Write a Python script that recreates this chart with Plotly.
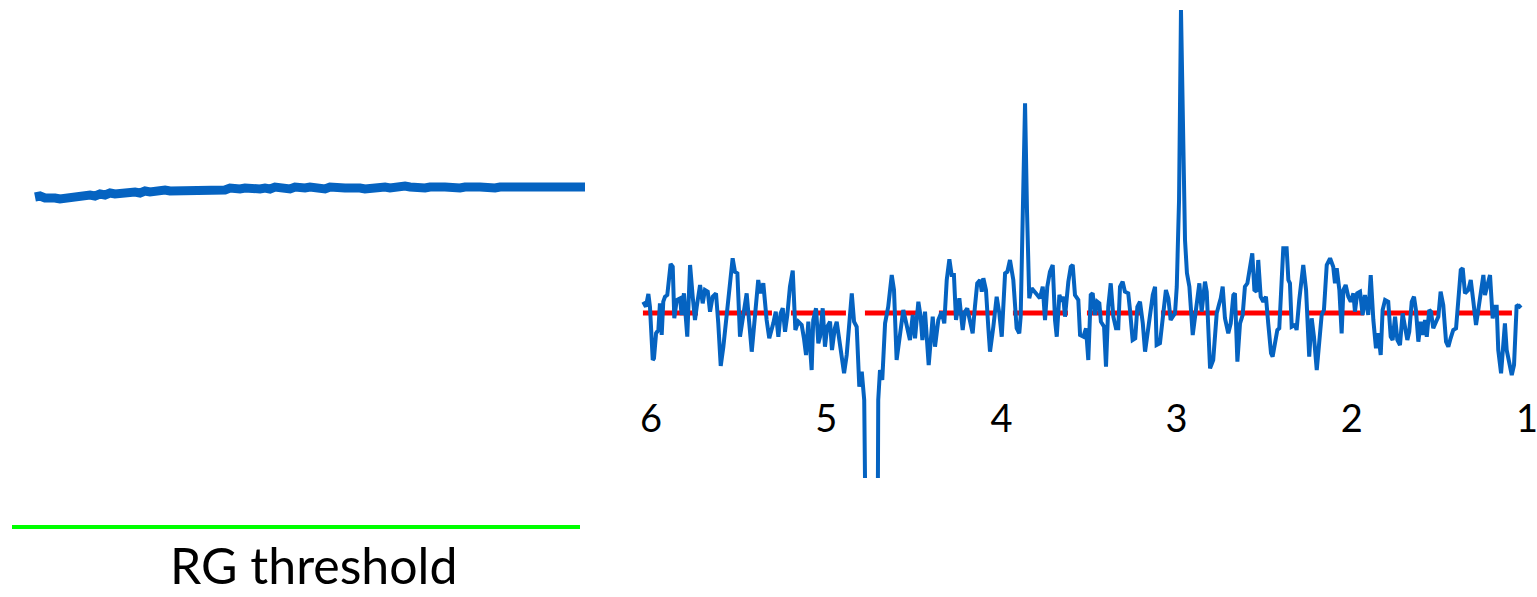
import plotly.graph_objects as go

# ---- left panel: quality trace over time with RG threshold ----
quality_t = list(range(111))
quality_val = [
    4.00, 4.01, 3.99, 4.00, 3.99, 3.98, 3.99, 3.98, 4.00, 4.01,
    4.01, 4.02, 4.01, 4.03, 4.02, 4.04, 4.03, 4.04, 4.05, 4.04,
    4.05, 4.04, 4.06, 4.05, 4.06, 4.05, 4.07, 4.06, 4.06, 4.07,
    4.06, 4.07, 4.08, 4.07, 4.07, 4.08, 4.07, 4.08, 4.07, 4.09,
    4.08, 4.08, 4.09, 4.08, 4.09, 4.08, 4.09, 4.08, 4.10, 4.09,
    4.09, 4.08, 4.10, 4.09, 4.09, 4.10, 4.09, 4.09, 4.08, 4.10,
    4.09, 4.10, 4.09, 4.09, 4.10, 4.09, 4.08, 4.09, 4.10, 4.09,
    4.10, 4.09, 4.10, 4.09, 4.11, 4.10, 4.09, 4.10, 4.09, 4.10,
    4.09, 4.10, 4.10, 4.09, 4.10, 4.09, 4.10, 4.09, 4.10, 4.10,
    4.09, 4.10, 4.09, 4.10, 4.10, 4.09, 4.10, 4.09, 4.10, 4.10,
    4.09, 4.10, 4.10, 4.09, 4.10, 4.10, 4.09, 4.10, 4.10, 4.09,
    4.10,
]
rg_threshold = 0.70
threshold_t = [-4.6, 109.0]
threshold_label = "RG threshold"

# ---- right panel: spectrum (chemical shift in ppm) ----
ppm = [
    6.044, 6.029, 6.015, 6.006, 5.990, 5.983, 5.971, 5.958, 5.949, 5.939,
    5.930, 5.920, 5.907, 5.888, 5.876, 5.867, 5.853, 5.834, 5.825, 5.812,
    5.793, 5.777, 5.762, 5.749, 5.739, 5.720, 5.705, 5.692, 5.676, 5.663,
    5.648, 5.629, 5.616, 5.602, 5.587, 5.568, 5.549, 5.534, 5.521, 5.507,
    5.492, 5.473, 5.454, 5.425, 5.406, 5.388, 5.374, 5.359, 5.340, 5.325,
    5.302, 5.288, 5.273, 5.260, 5.248, 5.235, 5.222, 5.207, 5.191, 5.176,
    5.159, 5.140, 5.127, 5.115, 5.102, 5.092, 5.083, 5.074, 5.058, 5.045,
    5.035, 5.020, 5.007, 4.994, 4.978, 4.967, 4.951, 4.940, 4.925, 4.912,
    4.898, 4.883, 4.868, 4.854, 4.841, 4.826, 4.811, 4.797, 4.783, 4.773,
    4.707, 4.703, 4.693, 4.680, 4.664, 4.646, 4.626, 4.613, 4.598, 4.583,
    4.560, 4.541, 4.522, 4.506, 4.493, 4.474, 4.461, 4.451, 4.436, 4.415,
    4.392, 4.379, 4.360, 4.341, 4.326, 4.312, 4.297, 4.284, 4.271, 4.259,
    4.240, 4.221, 4.208, 4.195, 4.179, 4.164, 4.151, 4.138, 4.122, 4.112,
    4.103, 4.088, 4.075, 4.065, 4.046, 4.027, 4.012, 3.998, 3.979, 3.966,
    3.951, 3.932, 3.913, 3.898, 3.890, 3.877, 3.865, 3.854, 3.841, 3.827,
    3.808, 3.795, 3.780, 3.764, 3.751, 3.738, 3.723, 3.707, 3.694, 3.684,
    3.669, 3.656, 3.647, 3.637, 3.618, 3.604, 3.593, 3.580, 3.561, 3.551,
    3.532, 3.517, 3.504, 3.490, 3.479, 3.466, 3.453, 3.441, 3.432, 3.414,
    3.403, 3.390, 3.376, 3.361, 3.346, 3.333, 3.323, 3.308, 3.295, 3.276,
    3.266, 3.251, 3.236, 3.224, 3.209, 3.193, 3.180, 3.167, 3.152, 3.136,
    3.123, 3.114, 3.095, 3.076, 3.061, 3.047, 3.034, 3.022, 3.009, 2.999,
    2.986, 2.975, 2.962, 2.952, 2.941, 2.927, 2.908, 2.885, 2.870, 2.857,
    2.838, 2.828, 2.809, 2.791, 2.771, 2.756, 2.748, 2.737, 2.724, 2.705,
    2.691, 2.676, 2.667, 2.653, 2.638, 2.623, 2.610, 2.596, 2.581, 2.568,
    2.556, 2.543, 2.534, 2.520, 2.505, 2.490, 2.477, 2.461, 2.452, 2.438,
    2.425, 2.414, 2.400, 2.391, 2.372, 2.362, 2.353, 2.343, 2.324, 2.315,
    2.300, 2.286, 2.277, 2.261, 2.243, 2.229, 2.216, 2.200, 2.185, 2.172,
    2.159, 2.143, 2.124, 2.106, 2.096, 2.086, 2.071, 2.058, 2.048, 2.035,
    2.020, 2.006, 1.991, 1.982, 1.969, 1.953, 1.938, 1.925, 1.906, 1.892,
    1.877, 1.862, 1.849, 1.835, 1.824, 1.810, 1.792, 1.778, 1.767, 1.753,
    1.740, 1.725, 1.710, 1.696, 1.683, 1.672, 1.658, 1.645, 1.634, 1.620,
    1.607, 1.595, 1.582, 1.572, 1.558, 1.548, 1.535, 1.519, 1.506, 1.493,
    1.478, 1.462, 1.449, 1.436, 1.421, 1.405, 1.392, 1.378, 1.367, 1.354,
    1.335, 1.321, 1.306, 1.291, 1.278, 1.264, 1.249, 1.240, 1.227, 1.211,
    1.196, 1.183, 1.173, 1.164, 1.148, 1.135, 1.126, 1.116, 1.101, 1.087,
    1.074, 1.059, 1.044, 1.034,
]
amplitude = [
    0.113, 0.063, 0.190, 0.063, -0.470, -0.453, -0.203, -0.170, 0.097, -0.220,
    0.113, 0.163, 0.180, 0.490, 0.463, -0.053, 0.130, 0.147, -0.020, 0.197,
    -0.237, 0.480, 0.163, -0.070, 0.063, 0.280, 0.097, 0.230, 0.213, 0.013,
    0.163, 0.197, -0.103, -0.530, -0.337, -0.037, 0.263, 0.547, 0.413, 0.397,
    -0.237, -0.037, 0.197, -0.387, 0.030, 0.330, 0.197, 0.297, -0.070, -0.253,
    -0.103, 0.013, -0.237, -0.003, 0.047, -0.187, -0.020, 0.263, 0.423, -0.170,
    -0.087, -0.120, -0.253, -0.420, -0.087, -0.370, -0.570, -0.070, 0.047, -0.303,
    -0.237, 0.047, -0.337, -0.137, -0.087, -0.370, -0.153, -0.087, -0.270, -0.403,
    -0.603, -0.420, -0.137, 0.197, -0.087, -0.137, -0.737, -0.587, -0.870, -2.600,
    -2.600, -0.870, -0.570, -0.670, -0.103, 0.063, 0.380, 0.230, -0.470, -0.270,
    0.030, -0.120, -0.270, -0.020, -0.253, 0.113, -0.037, -0.270, 0.013, -0.520,
    -0.037, -0.337, -0.070, 0.013, -0.103, 0.330, 0.537, 0.380, 0.380, -0.070,
    0.147, -0.170, 0.013, 0.047, -0.070, -0.203, 0.063, 0.297, 0.330, 0.213,
    0.347, 0.230, -0.137, -0.387, -0.137, 0.163, -0.003, -0.237, 0.397, 0.413,
    0.530, 0.330, -0.153, -0.203, -0.037, 1.130, 2.097, 1.030, 0.147, 0.247,
    0.213, 0.180, 0.147, 0.263, -0.070, 0.263, 0.413, 0.480, -0.070, -0.237,
    0.180, 0.113, 0.163, -0.037, 0.313, 0.463, 0.480, 0.180, 0.130, -0.220,
    -0.237, -0.153, -0.470, 0.180, 0.197, -0.020, 0.113, 0.097, -0.087, -0.137,
    -0.537, 0.063, 0.297, -0.037, -0.153, -0.153, 0.263, 0.313, 0.213, 0.197,
    0.030, -0.270, -0.253, 0.063, 0.113, -0.103, -0.387, -0.237, -0.037, 0.180,
    0.263, -0.320, -0.303, 0.030, 0.230, 0.147, -0.070, -0.037, -0.003, 0.263,
    1.130, 3.030, 1.800, 0.730, 0.400, 0.263, -0.220, 0.063, 0.297, 0.013,
    0.313, 0.213, -0.553, -0.470, -0.003, 0.097, 0.147, 0.263, -0.053, -0.203,
    -0.103, 0.180, 0.197, -0.487, -0.103, -0.020, 0.263, 0.297, 0.463, 0.597,
    0.230, 0.213, 0.530, 0.163, 0.113, 0.163, -0.103, -0.403, -0.437, -0.303,
    -0.170, -0.153, 0.297, 0.647, 0.647, 0.330, 0.297, -0.137, -0.120, -0.170,
    0.130, 0.330, 0.480, 0.230, -0.437, -0.053, -0.237, -0.570, -0.270, -0.020,
    0.030, 0.480, 0.547, 0.463, 0.297, 0.447, 0.230, -0.203, 0.230, 0.280,
    0.163, 0.113, 0.197, 0.013, 0.197, 0.213, -0.020, 0.180, -0.020, 0.380,
    -0.070, -0.353, -0.203, -0.420, 0.030, 0.130, 0.113, -0.237, -0.270, -0.037,
    -0.270, -0.320, -0.003, -0.153, -0.270, -0.187, 0.113, 0.163, 0.030, -0.287,
    -0.087, -0.220, -0.070, -0.237, 0.030, 0.013, -0.153, -0.087, -0.037, 0.213,
    0.080, -0.287, -0.337, -0.253, -0.170, -0.153, 0.130, 0.430, 0.447, 0.197,
    0.230, 0.330, 0.113, -0.120, 0.030, 0.180, 0.380, 0.180, 0.263, 0.380,
    -0.053, 0.063, 0.063, -0.370, -0.603, -0.270, -0.103, -0.370, -0.520, -0.620,
    -0.520, 0.080, 0.063, 0.080,
]
baseline_ppm = [6.046, 1.040]
baseline_level = 0.0
ppm_ticks = [6, 5, 4, 3, 2, 1]

BLUE = "#0563C1"
FONT = "Lato"

fig = go.Figure()

# left panel
fig.add_trace(go.Scatter(
    x=threshold_t, y=[rg_threshold, rg_threshold], mode="lines",
    line=dict(color="#00FF00", width=4), xaxis="x", yaxis="y",
    hoverinfo="skip", showlegend=False,
))
fig.add_trace(go.Scatter(
    x=quality_t, y=quality_val, mode="lines",
    line=dict(color=BLUE, width=9), xaxis="x", yaxis="y",
    showlegend=False,
))

# right panel
fig.add_trace(go.Scatter(
    x=baseline_ppm, y=[baseline_level, baseline_level], mode="lines",
    line=dict(color="#FF0000", width=5, dash="55px,19px"),
    xaxis="x2", yaxis="y2", hoverinfo="skip", showlegend=False,
))
fig.add_trace(go.Scatter(
    x=ppm, y=amplitude, mode="lines",
    line=dict(color=BLUE, width=4), xaxis="x2", yaxis="y2",
    showlegend=False,
))

hidden = dict(visible=False, showgrid=False, zeroline=False, fixedrange=True)

fig.update_layout(
    width=1537, height=597,
    margin=dict(l=0, r=0, t=0, b=0),
    paper_bgcolor="white", plot_bgcolor="rgba(0,0,0,0)",
    font=dict(family=FONT, color="black"),
    xaxis=dict(domain=[0, 600 / 1537], range=[-7, 113], **hidden),
    yaxis=dict(domain=[0, 1], range=[0, 5.97], **hidden),
    xaxis2=dict(
        domain=[640 / 1537, 1], range=[6.0628, 0.9429],
        anchor="free", position=0.342,
        tickvals=ppm_ticks, ticktext=[str(v) for v in ppm_ticks],
        tickfont=dict(family=FONT, size=38, color="black"),
        ticklabeloverflow="allow",
        showline=False, showgrid=False, zeroline=False, ticks="",
    ),
    yaxis2=dict(domain=[119 / 597, 1], range=[-1.65, 3.13],
                anchor="x2", **hidden),
    annotations=[dict(
        text=threshold_label, xref="paper", yref="paper",
        x=313 / 1537, y=0.0, xanchor="center", yanchor="bottom",
        showarrow=False, font=dict(family=FONT, size=50, color="black"),
    )],
)

fig.write_html("out.html")
